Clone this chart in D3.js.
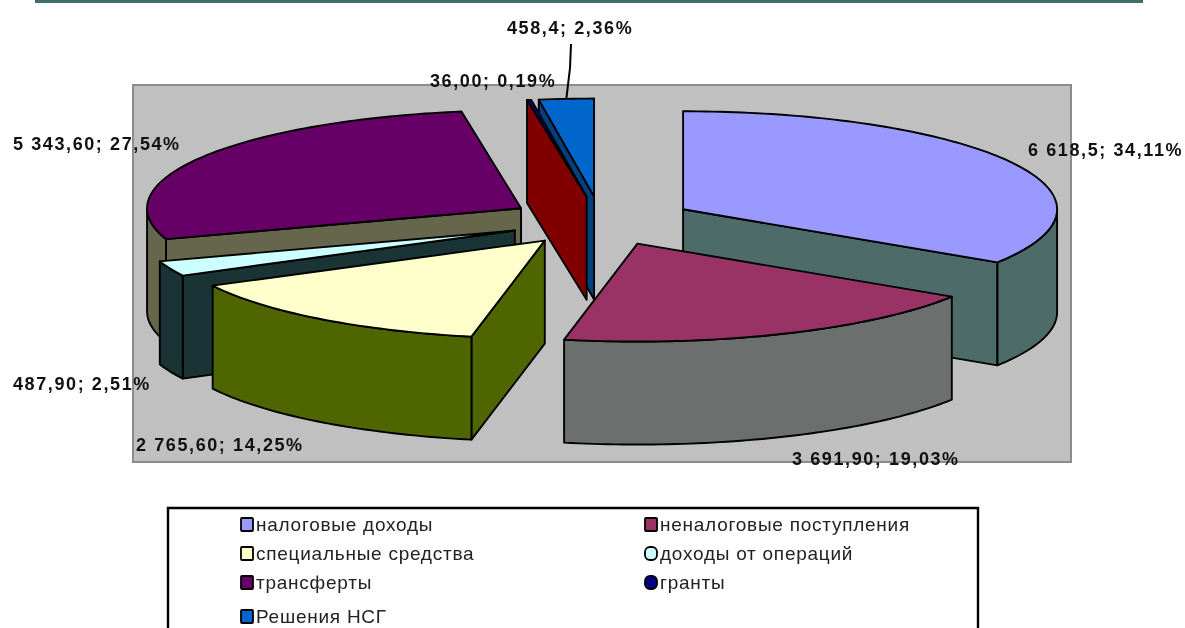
<!DOCTYPE html>
<html><head><meta charset="utf-8">
<style>html,body{margin:0;padding:0;background:#fff;overflow:hidden}svg{display:block;filter:blur(0.7px)}text{font-family:"Liberation Sans",Arial,sans-serif}</style>
<script src="https://cdn.jsdelivr.net/npm/d3@7/dist/d3.min.js"></script>
</head><body><svg id="c" width="1185" height="628"></svg>
<script>
const categories = ["налоговые доходы","неналоговые поступления","специальные средства","доходы от операций","трансферты","гранты","Решения НСГ"];
const values = [6618.5,3691.9,2765.6,487.9,5343.6,36.0,458.4];
const valueLabels = ["6 618,5","3 691,90","2 765,60","487,90","5 343,60","36,00","458,4"];
const percentLabels = ["34,11%","19,03%","14,25%","2,51%","27,54%","0,19%","2,36%"];
const topColors = ["#9999ff","#993366","#ffffcc","#ccffff","#660066","#000080","#0066cc"];
const wallColors = ["#4d6b68","#6b6f6e","#4f6600","#1a3335","#66664d","#800000","#00407f"];
const drawOrder = [6,5,4,0,3,2,1];

const W=1185,H=628,TAU=Math.PI*2;
const cx=601,cy=221,rx=374,ry=98,depth=103,explode=0.25;
const labelAnchors=[[1028,156],[792,465],[136,451],[13,390],[13,150],[430,87],[507,34]];
const legendSlots=[[241,518],[645,518],[241,547],[645,547],[241,576],[645,576],[241,610]];
const roundMarker=[0,0,0,1,0,1,0];

const svg=d3.select("#c");
const px=d3.scaleLinear().domain([-1,1]).range([cx-rx,cx+rx]);
const py=d3.scaleLinear().domain([-1,1]).range([cy-ry,cy+ry]);
const arcs=d3.pie().sort(null).startAngle(0).endAngle(TAU)(values);

svg.append("rect").attr("x",35).attr("y",0).attr("width",1108).attr("height",3).attr("fill","#3f6f6c");
svg.append("rect").attr("x",133).attr("y",85).attr("width",938).attr("height",377)
  .attr("fill","#c0c0c0").attr("stroke","#8c8c8c").attr("stroke-width",2);

function pt(a,off,dz){return [px(off.x+Math.sin(a)),py(off.y-Math.cos(a))+(dz||0)];}
function rim(a0,a1,dz,off){
  const n=Math.max(2,Math.ceil((a1-a0)/0.02));
  return d3.range(n+1).map(i=>pt(a0+(a1-a0)*i/n,off,dz));
}
const line=d3.line();
function face(g,pts,fill){
  g.append("path").attr("d",line(pts)+"Z").attr("fill",fill).attr("stroke","#000").attr("stroke-width",1.9).attr("stroke-linejoin","round");
}
const pie=svg.append("g");
drawOrder.forEach(i=>{
  const d=arcs[i],a0=d.startAngle,a1=d.endAngle,mid=(a0+a1)/2;
  const off={x:explode*Math.sin(mid),y:-explode*Math.cos(mid)};
  const g=pie.append("g");
  const apex=[px(off.x),py(off.y)];
  const wall=a=>{const p=pt(a,off);face(g,[apex,p,[p[0],p[1]+depth],[apex[0],apex[1]+depth]],wallColors[i]);};
  if(a0>=Math.PI&&a0<TAU) wall(a0);
  if(a1>0&&a1<Math.PI) wall(a1);
  const s=Math.max(a0,Math.PI/2),e=Math.min(a1,Math.PI*1.5);
  if(e>s){
    face(g,rim(s,e,0,off).concat(rim(s,e,depth,off).reverse()),wallColors[i]);
  }
  face(g,[apex].concat(rim(a0,a1,0,off)),topColors[i]);
});

// leader line of the last label
const lead=arcs[6],leadMid=(lead.startAngle+lead.endAngle)/2;
const leadOff={x:explode*Math.sin(leadMid),y:-explode*Math.cos(leadMid)};
const leadEnd=pt(leadMid,leadOff);
svg.append("path").attr("d",line([[571,44],[570,68],[leadEnd[0],leadEnd[1]]]))
  .attr("fill","none").attr("stroke","#000").attr("stroke-width",2);

svg.append("g").selectAll("text").data(categories).join("text")
  .attr("x",(d,i)=>labelAnchors[i][0]).attr("y",(d,i)=>labelAnchors[i][1])
  .attr("font-size",18).attr("font-weight","bold").attr("letter-spacing",1.6).attr("fill","#111")
  .text((d,i)=>valueLabels[i]+"; "+percentLabels[i]);

// legend frame runs off the bottom of the picture
svg.append("path").attr("d",line([[168,628],[168,508],[978,508],[978,628]]))
  .attr("fill","none").attr("stroke","#000").attr("stroke-width",2.4);
const lg=svg.append("g").selectAll("g").data(categories).join("g")
  .attr("transform",(d,i)=>`translate(${legendSlots[i][0]},${legendSlots[i][1]})`);
lg.append("rect").attr("width",12).attr("height",13).attr("rx",(d,i)=>roundMarker[i]?5:1)
  .attr("fill",(d,i)=>topColors[i]).attr("stroke","#000").attr("stroke-width",1.8);
lg.append("text").attr("x",15).attr("y",13).attr("font-size",19).attr("letter-spacing",0.75).attr("fill","#222").text(d=>d);
</script></body></html>
